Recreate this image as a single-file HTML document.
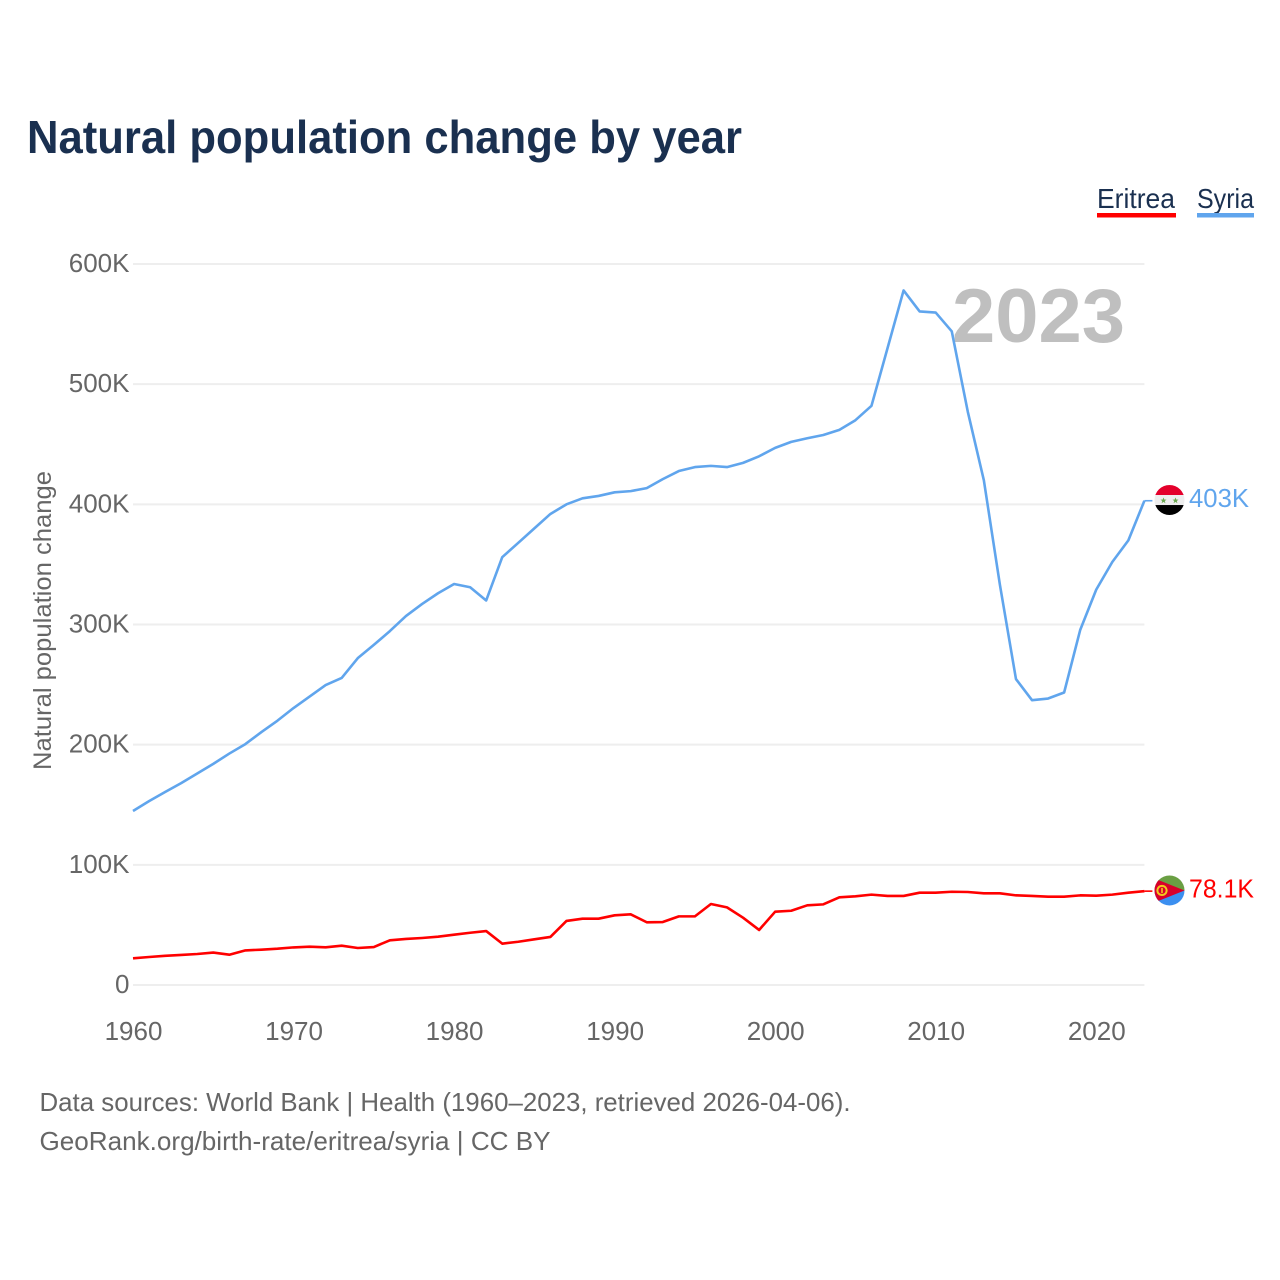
<!DOCTYPE html>
<html lang="en">
<head>
<meta charset="utf-8">
<title>Natural population change by year</title>
<style>
html,body{margin:0;padding:0;background:#fff;width:1280px;height:1280px;overflow:hidden}
svg{display:block;font-family:"Liberation Sans",sans-serif}
</style>
</head>
<body>
<svg id="chart" xmlns="http://www.w3.org/2000/svg" width="1280" height="1280" viewBox="0 0 1280 1280">
  <defs>
    <clipPath id="flag-clip"><circle cx="0" cy="0" r="15"></circle></clipPath>
  </defs>
  <rect x="0" y="0" width="1280" height="1280" fill="#fff"></rect>
  <text x="27" y="153" font-size="46" font-weight="700" fill="#1a3050" textLength="715" lengthAdjust="spacingAndGlyphs">Natural population change by year</text>

  <g>
    <g>
      <text x="1097" y="208" font-size="28" fill="#1a3050" textLength="78" lengthAdjust="spacingAndGlyphs">Eritrea</text>
      <rect x="1097" y="213" width="79" height="4.5" fill="#ff0000"></rect>
    </g>
    <g>
      <text x="1197" y="208" font-size="28" fill="#1a3050" textLength="57" lengthAdjust="spacingAndGlyphs">Syria</text>
      <rect x="1197" y="213" width="57" height="4.5" fill="#60a5ed"></rect>
    </g>
  </g>

  <text transform="translate(51,770) rotate(-90)" x="0" y="0" font-size="25" fill="#666" textLength="299" lengthAdjust="spacingAndGlyphs">Natural population change</text>

  <g id="grid"></g>
  <g id="y-ticks"></g>
  <g id="x-ticks"></g>

  <text x="952" y="342" font-size="76" font-weight="700" fill="#bfbfbf" textLength="173" lengthAdjust="spacingAndGlyphs">2023</text>

  <g id="series"></g>

  <g id="flag-syria">
    <g clip-path="url(#flag-clip)">
      <rect x="-15" y="-15" width="30" height="10" fill="#e4002b"></rect>
      <rect x="-15" y="-5" width="30" height="10" fill="#eeeeee"></rect>
      <rect x="-15" y="5" width="30" height="10" fill="#000000"></rect>
      <polygon transform="translate(-6,0.5)" points="0,-3 0.9,-0.9 3,-0.9 1.3,0.5 1.9,2.7 0,1.4 -1.9,2.7 -1.3,0.5 -3,-0.9 -0.9,-0.9" fill="#6aa84f"></polygon>
      <polygon transform="translate(6,0.5)" points="0,-3 0.9,-0.9 3,-0.9 1.3,0.5 1.9,2.7 0,1.4 -1.9,2.7 -1.3,0.5 -3,-0.9 -0.9,-0.9" fill="#6aa84f"></polygon>
    </g>
  </g>
  <g id="flag-eritrea">
    <g clip-path="url(#flag-clip)">
      <rect x="-15" y="-15" width="30" height="15" fill="#6a9f43"></rect>
      <polygon points="-15,0 15,0 15,15 -15,15" fill="#3b8ff0"></polygon>
      <polygon points="-15,-12 15,0 -15,12" fill="#d8002b"></polygon>
      <circle cx="-7.5" cy="0" r="4.6" fill="none" stroke="#f2c81e" stroke-width="2"></circle>
      <rect x="-8.3" y="-2.6" width="1.6" height="5.2" fill="#f2c81e"></rect>
    </g>
  </g>

  <text id="value-syria" x="1189" font-size="26" fill="#60a5ed" textLength="60" lengthAdjust="spacingAndGlyphs"></text>
  <text id="value-eritrea" x="1189" font-size="26" fill="#ff0000" textLength="65" lengthAdjust="spacingAndGlyphs"></text>

  <g>
    <text x="39.5" y="1111" font-size="26" fill="#666" textLength="811" lengthAdjust="spacingAndGlyphs">Data sources: World Bank | Health (1960–2023, retrieved 2026-04-06).</text>
    <text x="39.5" y="1150" font-size="26" fill="#666" textLength="511" lengthAdjust="spacingAndGlyphs">GeoRank.org/birth-rate/eritrea/syria | CC BY</text>
  </g>
</svg>
<script>
const startYear = 1960;
const syriaValues = [144.8,153,160.6,168,176,184,192.6,200.5,210.5,220,230.5,240,249.6,255.5,272,283,294.5,307,317,326,333.7,331,320,356,368,380,392,400,405,407,410,411,413.5,421,427.7,431,432,431,434.5,440,447,452,455,457.7,462,470,482,530,578,560.5,559.6,544,477,420,333,254.6,237,238.4,243.4,295.4,329,352,370,403];
const eritreaValues = [22.2,23.3,24.3,25,25.8,27,25.2,28.8,29.4,30.2,31.3,31.9,31.4,32.7,30.8,31.6,37.2,38.3,39.1,40.2,41.9,43.5,44.9,34.4,36,38,40,53.3,55.2,55.2,58,58.8,52.2,52.4,57.1,57.1,67.4,64.6,56,45.8,61,61.8,66.3,67.1,73,73.8,75.2,74.1,74.1,76.8,76.8,77.6,77.4,76.3,76.3,74.6,74.1,73.5,73.5,74.6,74.3,75.2,76.8,78.1];
const yTickValues = [0,100,200,300,400,500,600];
const yTickLabels = ["0","100K","200K","300K","400K","500K","600K"];
const xTickValues = [1960,1970,1980,1990,2000,2010,2020];

const NS = "http://www.w3.org/2000/svg";
function xScale(year){ return 133 + (year - 1960) * (1144.4 - 133) / 63; }
function yScale(v){ return 985 - v * (985 - 264) / 600; }
function make(tag, attrs, parent){
  const el = document.createElementNS(NS, tag);
  for (const k in attrs) el.setAttribute(k, attrs[k]);
  parent.appendChild(el);
  return el;
}
const grid = document.getElementById("grid");
const yTicks = document.getElementById("y-ticks");
const xTicks = document.getElementById("x-ticks");
const seriesGroup = document.getElementById("series");

yTickValues.forEach(function(v, i){
  const line = make("line", {x1:133, x2:1144.4, y1:yScale(v), y2:yScale(v), stroke:"#eeeeee", "stroke-width":2}, grid);
  
  
  const label = make("text", {x:129.5, y:yScale(v)+8, "text-anchor":"end", "font-size":26, fill:"#666"}, yTicks);
  
  
  label.textContent = yTickLabels[i];
});
xTickValues.forEach(function(year){
  const label = make("text", {x:xScale(year)+0.5, y:1040, "text-anchor":"middle", "font-size":26, fill:"#666"}, xTicks);
  
  
  label.textContent = String(year);
});
function linePoints(values){
  return values.map(function(v, i){ return xScale(startYear + i).toFixed(2) + "," + yScale(v).toFixed(2); }).join(" ");
}
const syriaLine = make("polyline", {points:linePoints(syriaValues), fill:"none", stroke:"#60a5ed", "stroke-width":2.6, "stroke-linejoin":"round"}, seriesGroup);


const eritreaLine = make("polyline", {points:linePoints(eritreaValues), fill:"none", stroke:"#ff0000", "stroke-width":2.6, "stroke-linejoin":"round"}, seriesGroup);



function formatValue(v){
  return (v >= 100 ? String(Math.round(v)) : v.toFixed(1)) + "K";
}
function placeEnd(values, color, flagId, labelId, connectorName){
  const v = values[values.length - 1];
  const y = yScale(v);
  const x = xScale(startYear + values.length - 1);
  const connector = make("line", {x1:x, x2:x + 8, y1:y, y2:y, stroke:color, "stroke-width":1.6}, seriesGroup);
  
  
  document.getElementById(flagId).setAttribute("transform", "translate(1169.5," + (y - 0.7) + ")");
  const label = document.getElementById(labelId);
  label.setAttribute("y", y + 6.5);
  label.textContent = formatValue(v);
}
placeEnd(syriaValues, "#60a5ed", "flag-syria", "value-syria", "connector-syria");
placeEnd(eritreaValues, "#ff0000", "flag-eritrea", "value-eritrea", "connector-eritrea");
</script>
</body>
</html>
